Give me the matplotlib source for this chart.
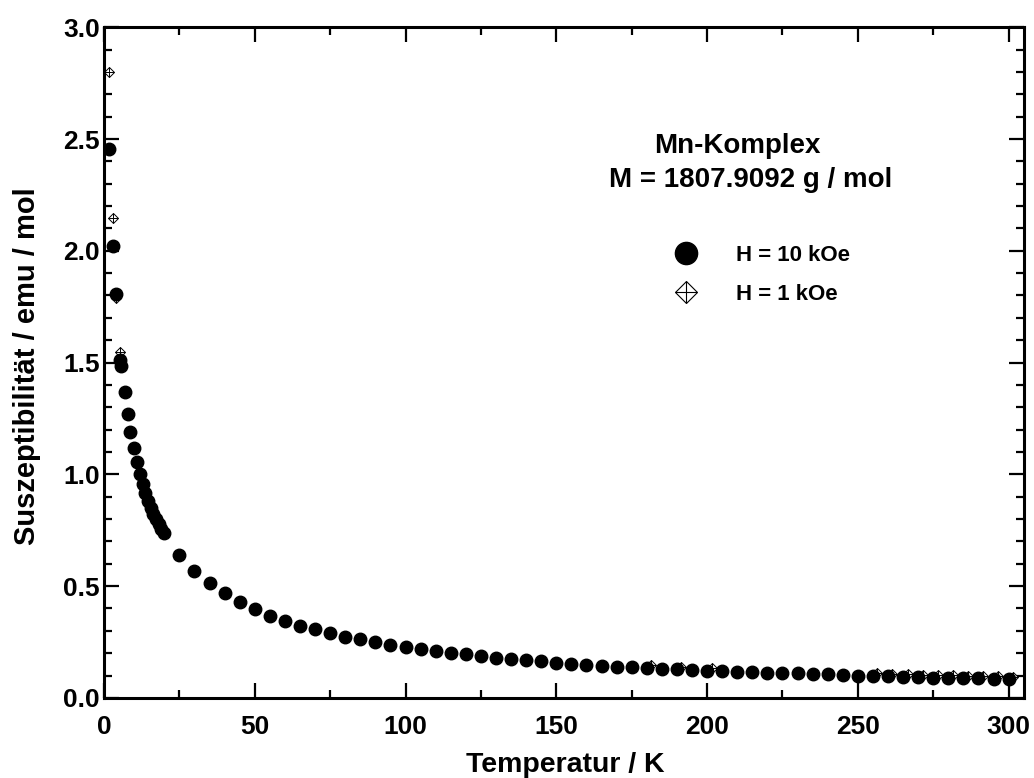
import matplotlib.pyplot as plt
from matplotlib.lines import Line2D
from matplotlib.legend_handler import HandlerTuple
from matplotlib.ticker import MultipleLocator

plt.rcParams["font.family"] = ["Liberation Sans", "DejaVu Sans"]
plt.rcParams["font.weight"] = "bold"

# H = 10 kOe (filled circles)
temp_10k = [1.8, 2.9, 4.0, 5.4, 5.5,
            6.8, 7.8, 8.7, 9.8, 10.8, 11.8, 12.8, 13.7, 14.6, 15.5,
            16.4, 17.3, 18.1, 19.0, 19.9,
            25, 30, 35, 40, 45, 50, 55, 60, 65, 70, 75, 80, 85, 90, 95,
            100, 105, 110, 115, 120, 125, 130, 135, 140, 145, 150, 155,
            160, 165, 170, 175, 180, 185, 190, 195, 200, 205, 210, 215,
            220, 225, 230, 235, 240, 245, 250, 255, 260, 265, 270, 275,
            280, 285, 290, 295, 300]
chi_10k = [2.454, 2.020, 1.806, 1.511, 1.484,
           1.367, 1.271, 1.188, 1.116, 1.056, 1.003, 0.958, 0.918, 0.882, 0.851,
           0.824, 0.799, 0.778, 0.757, 0.738,
           0.641, 0.569, 0.513, 0.471, 0.431, 0.396, 0.368, 0.346, 0.323,
           0.307, 0.289, 0.274, 0.262, 0.250, 0.238,
           0.228, 0.218, 0.209, 0.201, 0.194, 0.188, 0.180, 0.175, 0.169,
           0.163, 0.158, 0.153, 0.149, 0.144, 0.140, 0.137, 0.134, 0.131,
           0.128, 0.125, 0.122, 0.119, 0.117, 0.115, 0.113, 0.111, 0.109,
           0.107, 0.105, 0.103, 0.100, 0.098, 0.097, 0.095, 0.093, 0.091,
           0.090, 0.089, 0.087, 0.085, 0.083]

# H = 1 kOe (open diamonds with cross)
temp_1k = [1.8, 3.0, 4.0, 5.4, 181.5, 191.5, 201.5,
           256.5, 261.5, 266.5, 271.5, 276.5, 281.5, 286.5, 291.5, 296.5, 301.5]
chi_1k = [2.800, 2.145, 1.790, 1.548, 0.146, 0.140, 0.134,
          0.110, 0.108, 0.106, 0.104, 0.102, 0.101, 0.100, 0.098, 0.096, 0.094]

title_name = "Mn-Komplex"
title_mass = "M = 1807.9092 g / mol"
label_10k = "H = 10 kOe"
label_1k = "H = 1 kOe"

fig = plt.figure(figsize=(10.34, 7.78), dpi=100)
ax = fig.add_axes([0.1006, 0.103, 0.8894, 0.862])

ax.plot(temp_1k, chi_1k, linestyle="none", marker="D", markersize=5,
        mfc="white", mec="black", mew=0.7, zorder=2)
ax.plot(temp_1k, chi_1k, linestyle="none", marker="+", markersize=7,
        mec="black", mew=0.7, zorder=2)
ax.plot(temp_10k, chi_10k, linestyle="none", marker="o", markersize=9,
        color="black", zorder=3)

ax.set_xlim(0, 305)
ax.set_ylim(0, 3.0)
ax.xaxis.set_major_locator(MultipleLocator(50))
ax.xaxis.set_minor_locator(MultipleLocator(25))
ax.yaxis.set_major_locator(MultipleLocator(0.5))
ax.yaxis.set_minor_locator(MultipleLocator(0.1))
ax.yaxis.set_major_formatter(lambda v, pos: f"{v:.1f}")

ax.tick_params(which="both", direction="in", top=True, right=True,
               width=1.6, labelsize=19)
ax.tick_params(which="major", length=11)
ax.tick_params(which="minor", length=6)
ax.tick_params(axis="x", which="major", pad=12)
ax.tick_params(axis="y", which="major", pad=3)
for side in ax.spines.values():
    side.set_linewidth(2.2)

ax.set_xlabel("Temperatur / K", fontsize=20.5, fontweight="bold")
ax.set_ylabel("Suszeptibilität / emu / mol", fontsize=21, fontweight="bold")
ax.xaxis.set_label_coords(0.502, -0.081)
ax.yaxis.set_label_coords(-0.069, 0.495)

ax.text(0.689, 0.823, title_name, transform=ax.transAxes, ha="center",
        va="center", fontsize=20, fontweight="bold")
ax.text(0.703, 0.772, title_mass, transform=ax.transAxes, ha="center",
        va="center", fontsize=20, fontweight="bold")

h10 = Line2D([], [], linestyle="none", marker="o", markersize=16, color="black")
hd = Line2D([], [], linestyle="none", marker="D", markersize=11,
            mfc="white", mec="black", mew=0.8)
hp = Line2D([], [], linestyle="none", marker="+", markersize=16,
            mec="black", mew=0.8)
ax.legend([h10, (hd, hp)], [label_10k, label_1k],
          handler_map={tuple: HandlerTuple(ndivide=1)},
          loc="center left", bbox_to_anchor=(0.615, 0.631), frameon=False,
          borderpad=0, borderaxespad=0, handlelength=1.5,
          prop={"size": 16, "weight": "bold"}, handletextpad=1.5,
          labelspacing=0.82)

fig.savefig("out.png", dpi=100)
